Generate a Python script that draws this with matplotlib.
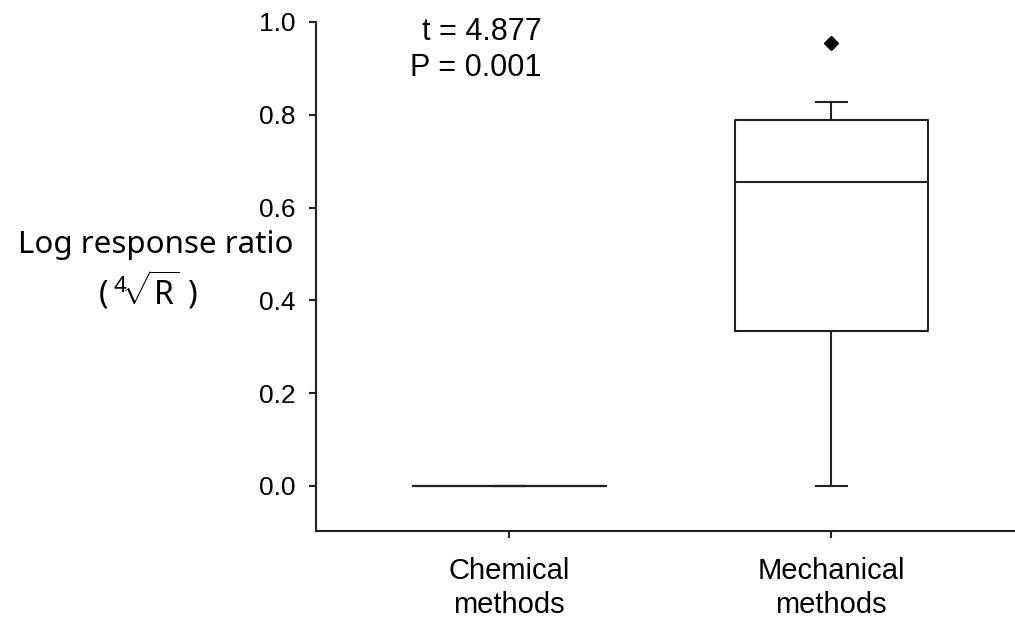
import matplotlib
matplotlib.use("Agg")
import matplotlib.pyplot as plt

# data
groups = ["Chemical\nmethods", "Mechanical\nmethods"]
medians = [0.0, 0.655]
q1 = [0.0, 0.334]
q3 = [0.0, 0.789]
whisk_lo = [0.0, 0.0]
whisk_hi = [0.0, 0.828]
outliers = [[], [0.955]]
t_value = 4.877
p_value = 0.001

plt.rcParams['font.family'] = ['Liberation Sans', 'DejaVu Sans']
plt.rcParams['mathtext.fontset'] = 'custom'
plt.rcParams['mathtext.rm'] = 'Noto Sans'

fig = plt.figure(figsize=(10.15, 6.23), dpi=100)
ax = fig.add_axes([0.3113, 0.1477, 0.6887, 0.817])

stats = []
for i in range(len(groups)):
    stats.append({'med': medians[i], 'q1': q1[i], 'q3': q3[i],
                  'whislo': whisk_lo[i], 'whishi': whisk_hi[i],
                  'fliers': outliers[i], 'label': groups[i]})

line_kw = dict(color='#222222', linewidth=1.5)
ax.bxp(stats, positions=[1, 2], widths=0.6, showfliers=True,
       boxprops=line_kw, medianprops=line_kw, whiskerprops=line_kw,
       capprops=line_kw, capwidths=0.095,
       flierprops=dict(marker='D', markersize=7.5, markerfacecolor='black',
                       markeredgecolor='black'))

ax.set_xlim(0.4, 2.57)
ax.set_ylim(-0.097, 1.0)
ax.set_yticks([0.0, 0.2, 0.4, 0.6, 0.8, 1.0])
ax.set_yticklabels(["0.0", "0.2", "0.4", "0.6", "0.8", "1.0"])
ax.tick_params(axis='both', direction='out', length=5, width=1.5,
               color='#222222')
ax.tick_params(axis='y', labelsize=19, pad=10)
ax.tick_params(axis='x', labelsize=21, pad=14)
for lab in ax.get_xticklabels():
    lab.set_linespacing(1.25)

for side in ['top', 'right']:
    ax.spines[side].set_visible(False)
for side in ['left', 'bottom']:
    ax.spines[side].set_linewidth(1.5)
    ax.spines[side].set_color('#222222')

# t-test annotation
ax.text(1.1, 0.978, f"t = {t_value:.3f}", ha='right', va='center', fontsize=22)
ax.text(1.1, 0.900, f"P = {p_value:.3f}", ha='right', va='center', fontsize=22)

# y label written horizontally on the left
fig.text(0.153, 0.607, "Log response ratio", ha='center', va='center',
         fontsize=22.5, family=['Noto Sans', 'DejaVu Sans'])
fig.text(0.146, 0.534, r"$(\,{}^{4}\!\sqrt{\mathrm{R}}\ )$", ha='center',
         va='center', fontsize=23)

fig.savefig("out.png", dpi=100)
